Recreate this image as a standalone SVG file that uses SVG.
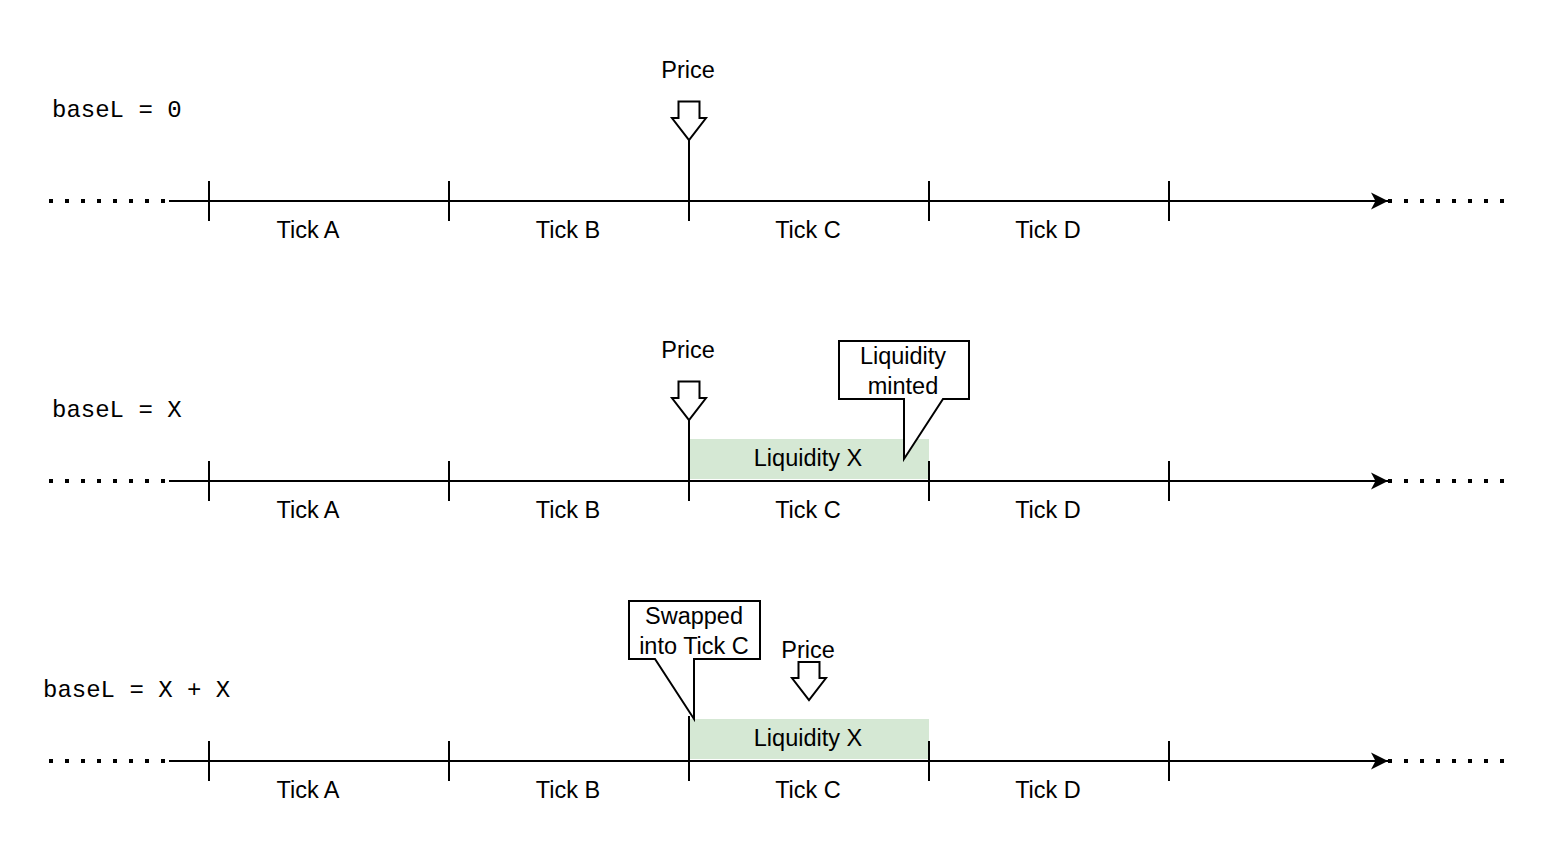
<svg xmlns="http://www.w3.org/2000/svg" width="1554" height="860" viewBox="0 0 1554 860">
<style>
  .t{font-family:"Liberation Sans",Arial,sans-serif;font-size:23.5px;fill:#000;text-anchor:middle}
  .m{font-family:"Liberation Mono","Courier New",monospace;font-size:24px;fill:#000}
  .ax{stroke:#000;stroke-width:2;fill:none}
  .dot{stroke:#000;stroke-width:4;stroke-dasharray:4 12;fill:none;shape-rendering:crispEdges}
  .tk{stroke:#000;stroke-width:2;fill:none}
  .pa{fill:#fff;stroke:#000;stroke-width:2;stroke-linejoin:miter}
  .liq{fill:#d5e8d4;stroke:none}
  .co{fill:#fff;stroke:#000;stroke-width:2;stroke-linejoin:miter}
</style>
<defs>
  <marker id="arr" viewBox="0 0 18 18" markerWidth="18" markerHeight="18" refX="17" refY="9" orient="auto" markerUnits="userSpaceOnUse">
    <path d="M17,9 L0,0.5 L4.5,9 L0,17.5 Z" fill="#000"/>
  </marker>
  <g id="tickrow">
    <line class="tk" x1="209" y1="-20" x2="209" y2="20"/>
    <line class="tk" x1="449" y1="-20" x2="449" y2="20"/>
    <line class="tk" x1="1169" y1="-20" x2="1169" y2="20"/>
  </g>
</defs>

<g id="connectors">
  <!-- row 1 -->
  <line class="dot" x1="49" y1="201" x2="168" y2="201"/>
  <line class="ax" x1="169" y1="201" x2="1388" y2="201" marker-end="url(#arr)"/>
  <line class="dot" x1="1388" y1="201" x2="1506" y2="201"/>
  <!-- row 2 -->
  <line class="dot" x1="49" y1="481" x2="168" y2="481"/>
  <line class="ax" x1="169" y1="481" x2="1388" y2="481" marker-end="url(#arr)"/>
  <line class="dot" x1="1388" y1="481" x2="1506" y2="481"/>
  <!-- row 3 -->
  <line class="dot" x1="49" y1="761" x2="168" y2="761"/>
  <line class="ax" x1="169" y1="761" x2="1388" y2="761" marker-end="url(#arr)"/>
  <line class="dot" x1="1388" y1="761" x2="1506" y2="761"/>
</g>

<!-- Row 1 -->
<g id="row1-label"><text class="m" x="52" y="117">baseL = 0</text></g>
<g id="row1-ticks">
  <use href="#tickrow" transform="translate(0,201)"/>
  <line class="tk" x1="689" y1="140" x2="689" y2="221"/>
  <line class="tk" x1="929" y1="181" x2="929" y2="221"/>
</g>
<g id="row1-tick-labels">
  <text class="t" x="308" y="238">Tick A</text>
  <text class="t" x="568" y="238">Tick B</text>
  <text class="t" x="808" y="238">Tick C</text>
  <text class="t" x="1048" y="238">Tick D</text>
</g>
<g id="row1-price">
  <text class="t" x="688" y="78">Price</text>
  <path class="pa" d="M678.5,101.5 H699.5 V118 H706 L689,140 L672,118 H678.5 Z"/>
</g>

<!-- Row 2 -->
<g id="row2-label"><text class="m" x="52" y="417">baseL = X</text></g>
<g id="row2-liquidity">
  <rect class="liq" x="689" y="439" width="240" height="40"/>
  <text class="t" x="808" y="466">Liquidity X</text>
</g>
<g id="row2-ticks">
  <use href="#tickrow" transform="translate(0,481)"/>
  <line class="tk" x1="689" y1="420" x2="689" y2="501"/>
  <line class="tk" x1="929" y1="461" x2="929" y2="501"/>
</g>
<g id="row2-tick-labels">
  <text class="t" x="308" y="518">Tick A</text>
  <text class="t" x="568" y="518">Tick B</text>
  <text class="t" x="808" y="518">Tick C</text>
  <text class="t" x="1048" y="518">Tick D</text>
</g>
<g id="row2-price">
  <text class="t" x="688" y="358">Price</text>
  <path class="pa" d="M678.5,381.5 H699.5 V398 H706 L689,420 L672,398 H678.5 Z"/>
</g>
<g id="row2-callout">
  <path class="co" d="M839,341 H969 V399 H943 L904,459 V399 H839 Z"/>
  <text class="t" x="903" y="364">Liquidity</text>
  <text class="t" x="903" y="394">minted</text>
</g>

<!-- Row 3 -->
<g id="row3-label"><text class="m" x="43" y="697">baseL = X + X</text></g>
<g id="row3-liquidity">
  <rect class="liq" x="689" y="719" width="240" height="40"/>
  <text class="t" x="808" y="746">Liquidity X</text>
</g>
<g id="row3-ticks">
  <use href="#tickrow" transform="translate(0,761)"/>
  <line class="tk" x1="689" y1="716" x2="689" y2="781"/>
  <line class="tk" x1="929" y1="741" x2="929" y2="781"/>
</g>
<g id="row3-tick-labels">
  <text class="t" x="308" y="798">Tick A</text>
  <text class="t" x="568" y="798">Tick B</text>
  <text class="t" x="808" y="798">Tick C</text>
  <text class="t" x="1048" y="798">Tick D</text>
</g>
<g id="row3-price">
  <text class="t" x="808" y="658">Price</text>
  <path class="pa" d="M798.5,662 H819.5 V678 H826 L809,700 L792,678 H798.5 Z"/>
</g>
<g id="row3-callout">
  <path class="co" d="M629,601 H760 V659 H694 V719 L655,659 H629 Z"/>
  <text class="t" x="694" y="624">Swapped</text>
  <text class="t" x="694" y="654">into Tick C</text>
</g>
</svg>
